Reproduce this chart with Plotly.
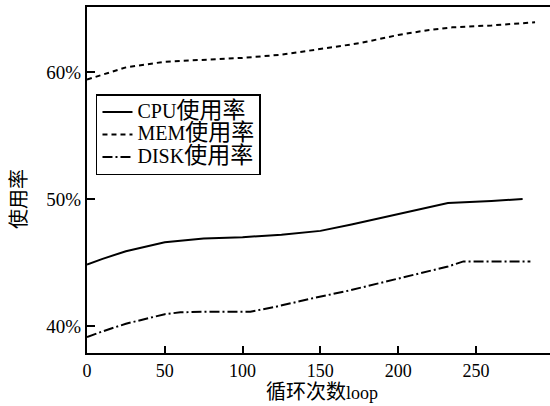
import plotly.graph_objects as go

cpu_x = [0, 10, 25, 50, 75, 100, 125, 150, 170, 200, 232, 260, 280]
cpu_y = [44.85, 45.3, 45.9, 46.6, 46.9, 47.0, 47.2, 47.5, 48.0, 48.8, 49.7, 49.85, 50.0]

mem_x = [0, 10, 25, 50, 75, 100, 125, 150, 175, 200, 220, 235, 260, 288]
mem_y = [59.4, 59.8, 60.35, 60.8, 60.95, 61.1, 61.35, 61.8, 62.25, 62.9, 63.3, 63.5, 63.65, 63.9]

disk_x = [0, 10, 25, 50, 60, 80, 105, 120, 145, 168, 200, 232, 242, 260, 285]
disk_y = [39.15, 39.6, 40.2, 40.95, 41.1, 41.15, 41.15, 41.5, 42.2, 42.8, 43.75, 44.7, 45.1, 45.1, 45.1]

x_ticks = [0, 50, 100, 150, 200, 250]
y_ticks = [40, 50, 60]
y_tick_labels = ["40%", "50%", "60%"]

series_names = ["CPU使用率", "MEM使用率", "DISK使用率"]
x_title = "循环次数loop"
y_title = "使用率"

FONT = "Liberation Serif, Times New Roman, Noto Sans CJK SC, serif"

def label(s, latin=19, cjk=21):
    out = ""
    for ch in s:
        size = cjk if ord(ch) > 0x2E80 else latin
        out += f"<span style='font-size:{size}px'>{ch}</span>"
    return out

fig = go.Figure()
fig.add_trace(go.Scatter(x=cpu_x, y=cpu_y, mode="lines", name=label(series_names[0], 20, 23),
                         line=dict(color="black", width=2, dash="solid")))
fig.add_trace(go.Scatter(x=mem_x, y=mem_y, mode="lines", name=label(series_names[1], 20, 23),
                         line=dict(color="black", width=2, dash="5px,4px")))
fig.add_trace(go.Scatter(x=disk_x, y=disk_y, mode="lines", name=label(series_names[2], 20, 23),
                         line=dict(color="black", width=2, dash="10px,3px,2px,3px")))

fig.update_layout(
    width=550, height=406,
    margin=dict(l=87, r=0, t=7, b=53),
    paper_bgcolor="white", plot_bgcolor="white",
    font=dict(family=FONT, size=18, color="black"),
    showlegend=True,
    legend=dict(x=0.0194, y=0.748, xanchor="left", yanchor="top",
                bgcolor="white", bordercolor="black", borderwidth=1.5,
                font=dict(family=FONT, size=15, color="black"),
                tracegroupgap=0, itemwidth=30),
    xaxis=dict(range=[0, 297.6], tickvals=x_ticks, ticks="inside", ticklen=7, tickwidth=1.5,
               tickcolor="black", showline=True, linecolor="black", linewidth=2,
               mirror=True, showgrid=False, zeroline=False,
               tickfont=dict(family=FONT, size=18)),
    yaxis=dict(range=[37.9, 65.1], tickvals=y_ticks, ticktext=y_tick_labels, ticks="inside",
               ticklen=8, tickwidth=1.5, tickcolor="black", showline=True, linecolor="black",
               linewidth=2, mirror=False, showgrid=False, zeroline=False,
               tickfont=dict(family=FONT, size=19)),
    annotations=[
        dict(text=label(x_title, 18, 20), x=322, y=392, xref="paper", yref="paper", showarrow=False,
             xanchor="center", yanchor="middle", font=dict(family=FONT, size=18)),
        dict(text=label(y_title, 18, 20), x=19, y=199, xref="paper", yref="paper", showarrow=False,
             xanchor="center", yanchor="middle", textangle=-90, font=dict(family=FONT, size=18)),
    ],
)

pw, ph = 550 - 87, 406 - 7 - 53
for a in fig.layout.annotations:
    px, py = a.x, a.y
    a.x = (px - 87) / pw
    a.y = (406 - 53 - py) / ph

fig.write_html("out.html", config={"displayModeBar": False},
               post_script="document.body.style.margin='0';document.body.style.overflow='hidden';")
